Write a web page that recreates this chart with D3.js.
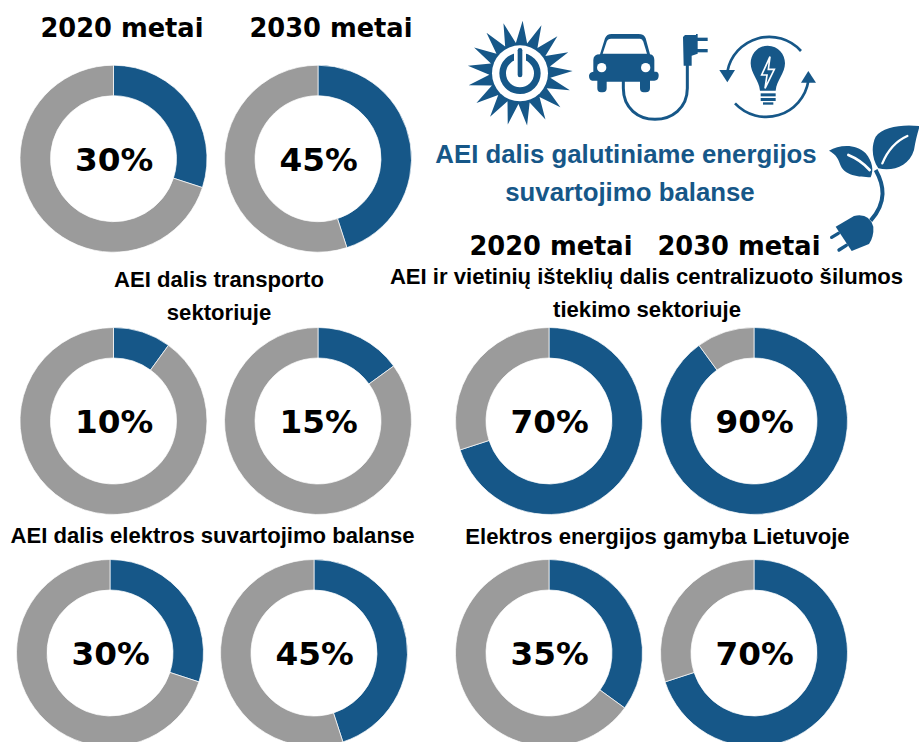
<!DOCTYPE html>
<html><head><meta charset="utf-8"><script src="https://cdn.jsdelivr.net/npm/d3@7"></script>
<style>html,body{margin:0;background:#fff}svg{display:block}</style></head><body>
<script>
const percents=[30,45,10,15,70,90,30,45,35,70];
const centerX=[113.5,318,113.5,318,549,754,110,314,549,754];
const centerY=[158.7,158.7,421,421,421,421,653,653,653,653];
const yearLabels=[["2020 metai",122,36.5],["2030 metai",331,36.5],["2020 metai",551,254.5],["2030 metai",739,254.5]];
const headings=[
["AEI dalis transporto",219,287],["sektoriuje",219,320],
["AEI ir vietinių išteklių dalis centralizuoto šilumos",646.5,284],["tiekimo sektoriuje",647,317],
["AEI dalis elektros suvartojimo balanse",212.5,543],["Elektros energijos gamyba Lietuvoje",657.5,544]];
const titleLines=[["AEI dalis galutiniame energijos",626,163],["suvartojimo balanse",630,201]];
const BLUE="#165788",GREY="#9b9b9b";
const svg=d3.select("body").append("svg").attr("width",919).attr("height",742);
const pie=d3.pie().sort(null);
const arc=d3.arc().innerRadius(63).outerRadius(93.5);
percents.forEach((p,i)=>{
 const g=svg.append("g").attr("transform",`translate(${centerX[i]},${centerY[i]})`);
 g.selectAll("path").data(pie([p,100-p])).join("path").attr("d",arc).attr("fill",(d,j)=>j?GREY:BLUE).attr("stroke","#fff").attr("stroke-width",.7);
 g.append("text").attr("text-anchor","middle").attr("x",.7).attr("y",12.3).attr("font-family","DejaVu Sans").attr("font-weight","bold").attr("font-size",32.7).text(p+"%");
});
svg.selectAll(".yr").data(yearLabels).join("text").attr("x",d=>d[1]).attr("y",d=>d[2]).attr("text-anchor","middle").attr("font-family","DejaVu Sans").attr("font-weight","bold").attr("font-size",25.7).text(d=>d[0]);
svg.selectAll(".hd").data(headings).join("text").attr("x",d=>d[1]).attr("y",d=>d[2]).attr("text-anchor","middle").attr("font-family","Liberation Sans").attr("font-weight","bold").attr("font-size",22.1).text(d=>d[0]);
svg.selectAll(".tt").data(titleLines).join("text").attr("x",d=>d[1]).attr("y",d=>d[2]).attr("text-anchor","middle").attr("font-family","Liberation Sans").attr("font-weight","bold").attr("font-size",25.8).attr("fill",BLUE).text(d=>d[0]);

// Decorative icons, drawn in 3x crop units
function icon(x,y){return svg.append("g").attr("transform",`translate(${x},${y}) scale(${1/3})`).attr("fill",BLUE).attr("stroke","none");}
const P=(g,d,a={})=>{const e=g.append("path").attr("d",d);for(const k in a)e.attr(k,a[k]);return e;};
// sun
const sun=icon(465,20);const N=17,pts=[];
for(let i=0;i<N;i++){const t=i/N*2*Math.PI+0.05;pts.push([t,158]);pts.push([t+Math.PI/N,92]);}
P(sun,d3.lineRadial().curve(d3.curveLinearClosed)(pts),{transform:"translate(165,160)"});
sun.append("circle").attr("cx",165).attr("cy",160).attr("r",90);
sun.append("circle").attr("cx",165).attr("cy",160).attr("r",84).attr("fill","#fff");
sun.append("circle").attr("cx",165).attr("cy",160).attr("r",52).attr("fill","none").attr("stroke",BLUE).attr("stroke-width",20);
sun.append("rect").attr("x",147).attr("y",78).attr("width",36).attr("height",70).attr("fill","#fff");
sun.append("rect").attr("x",158).attr("y",84).attr("width",14).attr("height",88).attr("rx",7);
// car
const car=icon(585,25);
const cable={fill:"none",stroke:BLUE,"stroke-width":9};
P(car,"M115,165 L115,190 C115,250 160,283 210,283 C260,283 307,250 307,190 L307,118",cable);
P(car,"M25,105 Q25,88 45,88 L60,40 Q65,27 80,27 L160,27 Q178,27 182,40 L195,88 Q208,90 208,105 L208,140 L214,140 Q222,142 221,153 Q220,167 208,167 L195,167 L195,190 Q195,202 182,202 L176,202 Q165,202 165,190 L165,170 L65,170 L65,190 Q65,202 53,202 L48,202 Q37,202 37,190 L37,167 L22,167 Q12,165 12,152 Q13,141 25,140Z");
P(car,"M53,86 L65,50 Q68,41 78,41 L165,41 Q172,41 175,50 L186,86Z",{fill:"#fff"});
car.append("circle").attr("cx",50).attr("cy",128).attr("r",14).attr("fill","#fff");
car.append("circle").attr("cx",182).attr("cy",128).attr("r",14).attr("fill","#fff");
P(car,"M300,30 L333,30 L333,27 L338,27 L338,86 L320,92 L320,122 L296,122 L294,36Z");
car.append("rect").attr("x",336).attr("y",38).attr("width",32).attr("height",10);
car.append("rect").attr("x",336).attr("y",72).attr("width",32).attr("height",10);
// bulb
const bulb=icon(715,25);
const ring={fill:"none",stroke:BLUE,"stroke-width":8};
P(bulb,"M258,78 A128,128 0 0 0 37,140",ring);
P(bulb,"M60,235 A128,128 0 0 0 280,168",ring);
P(bulb,"M13,135 L60,135 L37,172Z");
P(bulb,"M258,173 L303,173 L280,138Z");
P(bulb,"M158,62 C190,62 210,88 210,115 C210,145 185,165 182,197 L135,197 C132,165 107,145 107,115 C107,88 128,62 158,62Z");
P(bulb,"M165,95 L140,150 L156,150 L150,190 L178,133 L160,133Z",{fill:BLUE,stroke:"#fff","stroke-width":5});
bulb.append("rect").attr("x",137).attr("y",205).attr("width",45).attr("height",9);
bulb.append("rect").attr("x",137).attr("y",219).attr("width",45).attr("height",9);
bulb.append("rect").attr("x",144).attr("y",232).attr("width",31).attr("height",7);
// leaves and plug
const leaf=icon(819,120);
P(leaf,"M170,150 C195,195 205,245 155,302",{fill:"none",stroke:BLUE,"stroke-width":12});
P(leaf,"M30,92 C60,75 110,70 140,100 C160,125 165,150 155,172 C120,170 75,170 62,130 C56,110 45,100 30,92Z");
P(leaf,"M88,105 Q125,120 152,150",{fill:"none",stroke:"#fff","stroke-width":8,"stroke-linecap":"round"});
P(leaf,"M302,18 C250,12 190,20 170,50 C155,80 160,120 178,145 C220,155 270,140 285,90 C290,60 295,40 302,18Z");
P(leaf,"M265,48 Q215,70 190,130",{fill:"none",stroke:"#fff","stroke-width":7,"stroke-linecap":"round"});
P(leaf,"M50,320 L105,288 Q150,278 163,320 Q165,350 150,372 L98,393 Z");
const prong={fill:"none",stroke:BLUE,"stroke-width":10,"stroke-linecap":"round"};
P(leaf,"M58,340 L38,352",prong);
P(leaf,"M82,376 L60,390",prong);
</script></body></html>
